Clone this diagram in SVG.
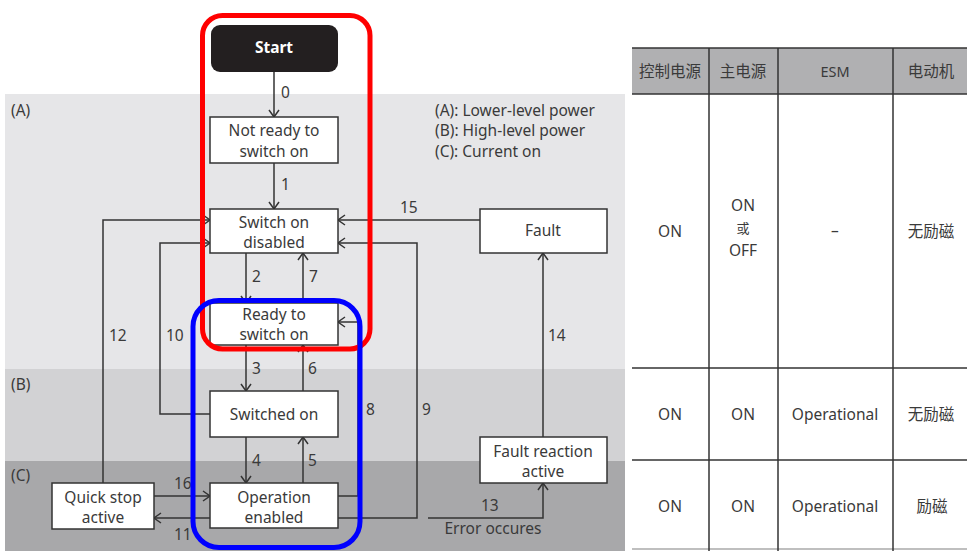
<svg xmlns="http://www.w3.org/2000/svg" width="967" height="551" viewBox="0 0 967 551">
<style>
  .t{font-family:"Noto Sans","Open Sans","Liberation Sans",sans-serif;font-size:15.5px;fill:#3a3a3a}
  .c{text-anchor:middle}
  .cjk{font-family:"Noto Sans CJK SC","Noto Sans",sans-serif;font-size:15.5px;fill:#3a3a3a;text-anchor:middle}
  .box{fill:#fff;stroke:#333;stroke-width:1.5}
  .ln{fill:none;stroke:#333;stroke-width:1.5;marker-end:url(#ah)}
  .tl{stroke:#333;stroke-width:1.5}
</style>
<defs>
  <marker id="ah" markerUnits="userSpaceOnUse" markerWidth="10" markerHeight="12" refX="8" refY="6" orient="auto">
    <path d="M1,1 L8,6 L1,11" fill="none" stroke="#333" stroke-width="1.5"/>
  </marker>
</defs>
<rect width="967" height="551" fill="#fff"/>
<g id="bands">
  <rect x="5" y="94" width="620" height="275" fill="#e6e6e8"/>
  <rect x="5" y="369" width="620" height="92" fill="#d2d2d4"/>
  <rect x="5" y="461" width="620" height="90" fill="#a8a8aa"/>
  <text class="t" x="11" y="116">(A)</text>
  <text class="t" x="11" y="390">(B)</text>
  <text class="t" x="11" y="481">(C)</text>
</g>
<g id="legend">
  <text class="t" x="435" y="116">(A): Lower-level power</text>
  <text class="t" x="435" y="136">(B): High-level power</text>
  <text class="t" x="435" y="157">(C): Current on</text>
</g>
<g id="table">
  <rect x="632" y="48" width="335" height="46" fill="#b0b0b2"/>
  <line class="tl" x1="632" y1="48" x2="967" y2="48"/>
  <line class="tl" x1="632" y1="94" x2="967" y2="94"/>
  <line class="tl" x1="632" y1="368" x2="967" y2="368"/>
  <line class="tl" x1="632" y1="460" x2="967" y2="460"/>
  <line x1="632" y1="549" x2="967" y2="549" stroke="#aaa" stroke-width="1.5"/>
  <line class="tl" x1="709" y1="48" x2="709" y2="551"/>
  <line class="tl" x1="778" y1="48" x2="778" y2="551"/>
  <line class="tl" x1="893" y1="48" x2="893" y2="551"/>
  <text class="cjk" x="670" y="77">控制电源</text>
  <text class="cjk" x="743" y="77">主电源</text>
  <text class="t c" x="835" y="77" style="font-size:14.5px">ESM</text>
  <text class="cjk" x="931" y="77">电动机</text>
  <text class="t c" x="670" y="237">ON</text>
  <text class="t c" x="743" y="211">ON</text>
  <text class="cjk" x="743" y="233" style="font-size:13px">或</text>
  <text class="t c" x="743" y="256">OFF</text>
  <text class="t c" x="835" y="236">–</text>
  <text class="cjk" x="931" y="237">无励磁</text>
  <text class="t c" x="670" y="420">ON</text>
  <text class="t c" x="743" y="420">ON</text>
  <text class="t c" x="835" y="420">Operational</text>
  <text class="cjk" x="931" y="420">无励磁</text>
  <text class="t c" x="670" y="512">ON</text>
  <text class="t c" x="743" y="512">ON</text>
  <text class="t c" x="835" y="512">Operational</text>
  <text class="cjk" x="932" y="512">励磁</text>
</g>
<g id="connectors">
  <path class="ln" d="M274,72 V117"/>
  <path class="ln" d="M274,163 V209"/>
  <path class="ln" d="M246,253 V303"/>
  <path class="ln" d="M303,303 V253"/>
  <path class="ln" d="M246,345 V391"/>
  <path class="ln" d="M303,391 V345"/>
  <path class="ln" d="M246,437 V483"/>
  <path class="ln" d="M303,483 V437"/>
  <path class="ln" d="M480,220 H338"/>
  <path class="ln" d="M338,518 H417 V243 H338"/>
  <path class="ln" d="M338,496 H358 V322 H338"/>
  <path class="ln" d="M103,483 V220 H210"/>
  <path class="ln" d="M210,414 H160 V243 H210"/>
  <path class="ln" d="M154,496 H210"/>
  <path class="ln" d="M210,518 H154"/>
  <path class="ln" d="M428,518 H543 V483"/>
  <path class="ln" d="M543,437 V253"/>
  <g class="t">
    <text x="281" y="98">0</text>
    <text x="281" y="190">1</text>
    <text x="252" y="282">2</text>
    <text x="309" y="282">7</text>
    <text x="252" y="374">3</text>
    <text x="308" y="374">6</text>
    <text x="252" y="466">4</text>
    <text x="308" y="466">5</text>
    <text x="109" y="341">12</text>
    <text x="166" y="341">10</text>
    <text x="366" y="415">8</text>
    <text x="422" y="415">9</text>
    <text x="548" y="341">14</text>
    <text x="400" y="213">15</text>
    <text x="174" y="489">16</text>
    <text x="174" y="540">11</text>
    <text x="481" y="511">13</text>
    <text x="493" y="534" text-anchor="middle">Error occures</text>
  </g>
</g>
<g id="start">
  <rect x="211" y="25" width="127" height="47" rx="9" fill="#231f20"/>
  <text class="t c" x="274" y="53" style="fill:#fff;font-weight:bold">Start</text>
</g>
<g id="not-ready">
  <rect class="box" x="210" y="117" width="128" height="46"/>
  <text class="t c" x="274" y="136">Not ready to</text>
  <text class="t c" x="274" y="157">switch on</text>
</g>
<g id="switch-on-disabled">
  <rect class="box" x="210" y="209" width="128" height="44"/>
  <text class="t c" x="274" y="228">Switch on</text>
  <text class="t c" x="274" y="248">disabled</text>
</g>
<g id="ready">
  <rect class="box" x="210" y="303" width="128" height="42"/>
  <text class="t c" x="274" y="320">Ready to</text>
  <text class="t c" x="274" y="340">switch on</text>
</g>
<g id="switched-on">
  <rect class="box" x="210" y="391" width="128" height="46"/>
  <text class="t c" x="274" y="420">Switched on</text>
</g>
<g id="operation-enabled">
  <rect class="box" x="210" y="483" width="128" height="45"/>
  <text class="t c" x="274" y="503">Operation</text>
  <text class="t c" x="274" y="523">enabled</text>
</g>
<g id="quick-stop">
  <rect class="box" x="52" y="483" width="102" height="46"/>
  <text class="t c" x="103" y="503">Quick stop</text>
  <text class="t c" x="103" y="523">active</text>
</g>
<g id="fault">
  <rect class="box" x="480" y="209" width="127" height="44"/>
  <text class="t c" x="543" y="236">Fault</text>
</g>
<g id="fault-reaction">
  <rect class="box" x="480" y="437" width="127" height="46"/>
  <text class="t c" x="543" y="457">Fault reaction</text>
  <text class="t c" x="543" y="477">active</text>
</g>
<g id="highlights" fill="none" stroke-width="5">
  <rect x="202.5" y="15.5" width="167.5" height="333.5" rx="20" stroke="#ff0000"/>
  <rect x="193" y="300.5" width="167" height="247" rx="26" stroke="#0000ff"/>
</g>
</svg>
